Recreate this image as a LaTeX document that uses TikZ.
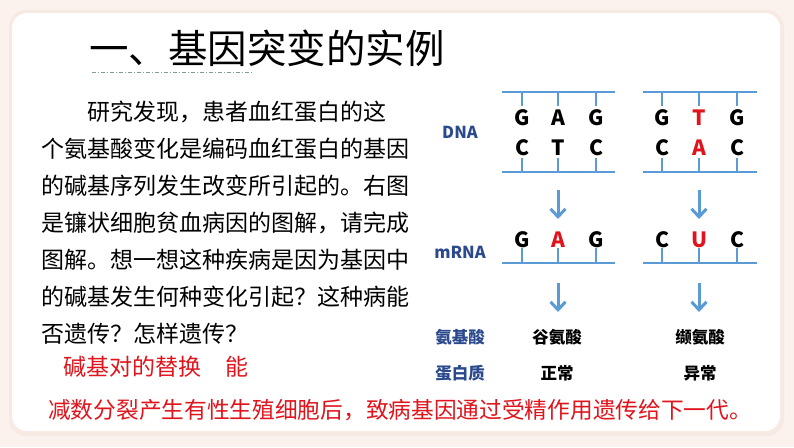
\documentclass[tikz,border=0pt]{standalone}
\usepackage{fontspec}
\newfontfamily\cjk{Noto Sans CJK SC}
\usetikzlibrary{arrows.meta}
\definecolor{bgpeach}{HTML}{FBF2ED}
\definecolor{shadowc}{HTML}{F7EAE3}
\definecolor{bluel}{HTML}{5B9BD5}
\definecolor{navy}{HTML}{2B4A8E}
\definecolor{redt}{HTML}{E0141C}
\definecolor{dashc}{HTML}{7E9C9E}
\tikzset{
  para/.style={anchor=west, inner sep=0pt, font=\cjk\fontsize{23}{23}\selectfont},
  answer/.style={anchor=west, inner sep=0pt, text=redt, font=\cjk\fontsize{23}{23}\selectfont},
  strand/.style={bluel, line width=2pt},
  tickln/.style={bluel, line width=1.6pt},
  base/.style={inner sep=0pt, font=\cjk\bfseries\fontsize{21}{21}\selectfont},
  mut/.style={base, text=redt},
  lbl/.style={inner sep=0pt, text=navy, font=\cjk\bfseries\fontsize{16.5}{16.5}\selectfont},
  res/.style={inner sep=0pt, font=\cjk\bfseries\fontsize{16.5}{16.5}\selectfont},
  flow/.style={bluel, line width=3pt, -{Straight Barb[length=8pt,width=15pt]}}
}
\begin{document}
\begin{tikzpicture}[x=1pt,y=-1pt]
\useasboundingbox (0,0) rectangle (794,447);
\fill[bgpeach] (0,0) rectangle (794,447);
\fill[shadowc, rounded corners=17pt] (9,10) rectangle (784,436);
\fill[white, rounded corners=15pt] (12,13) rectangle (780,431);

% title
\node[anchor=west, inner sep=0pt, font=\cjk\fontsize{39.5}{39.5}\selectfont] (title) at (89,48) {一、基因突变的实例};
\coordinate (u1) at (92,72);
\coordinate (u2) at (252,72);
\draw[dashc, line width=1pt, dash pattern=on 4pt off 2pt on 1pt off 2pt] (u1) -- (u2);

% paragraph
\node[para] (p1) at (87,112) {研究发现，患者血红蛋白的这};
\node[para] (p2) at (41,149) {个氨基酸变化是编码血红蛋白的基因};
\node[para] (p3) at (41,186) {的碱基序列发生改变所引起的。右图};
\node[para] (p4) at (41,223) {是镰状细胞贫血病因的图解，请完成};
\node[para] (p5) at (41,260) {图解。想一想这种疾病是因为基因中};
\node[para] (p6) at (41,297) {的碱基发生何种变化引起？这种病能};
\node[para] (p7) at (41,334) {否遗传？怎样遗传？};
\node[answer] (ans1) at (63,367) {碱基对的替换};
\node[answer] (ans2) at (225,367) {能};
\node[anchor=west, inner sep=0pt, text=redt, font=\cjk\fontsize{22.7}{22.7}\selectfont] (ans3) at (48,410) {减数分裂产生有性生殖细胞后，致病基因通过受精作用遗传给下一代。};

% row labels
\node[lbl] (ldna) at (460,132) {DNA};
\node[lbl] (lmrna) at (460,252) {mRNA};
\node[lbl] (laa) at (460,337) {氨基酸};
\node[lbl] (lpro) at (460,373) {蛋白质};

% DNA block 1
\draw[strand] (502,92) -- (615,92);
\draw[strand] (502,172) -- (615,172);
\foreach \x in {522,558,596} {
  \draw[tickln] (\x,92) -- (\x,106);
  \draw[tickln] (\x,158) -- (\x,172);
}
\node[base] (d1a) at (522,118) {G};
\node[base] (d1b) at (558,118) {A};
\node[base] (d1c) at (596,118) {G};
\node[base] (d1d) at (522,148) {C};
\node[base] (d1e) at (558,148) {T};
\node[base] (d1f) at (596,148) {C};

% DNA block 2
\draw[strand] (643,92) -- (757,92);
\draw[strand] (643,172) -- (757,172);
\foreach \x in {662,699,737} {
  \draw[tickln] (\x,92) -- (\x,106);
  \draw[tickln] (\x,158) -- (\x,172);
}
\node[base] (d2a) at (662,118) {G};
\node[mut] (d2b) at (699,118) {T};
\node[base] (d2c) at (737,118) {G};
\node[base] (d2d) at (662,148) {C};
\node[mut] (d2e) at (699,148) {A};
\node[base] (d2f) at (737,148) {C};

% mRNA
\draw[strand] (502,263) -- (615,263);
\draw[strand] (643,263) -- (757,263);
\foreach \x in {522,558,596,662,699,737} {
  \draw[tickln] (\x,248) -- (\x,263);
}
\node[base] (m1a) at (522,240) {G};
\node[mut] (m1b) at (558,240) {A};
\node[base] (m1c) at (596,240) {G};
\node[base] (m2a) at (662,240) {C};
\node[mut] (m2b) at (699,240) {U};
\node[base] (m2c) at (737,240) {C};

% amino acids and proteins
\node[res] (aa1) at (557,337) {谷氨酸};
\node[res] (aa2) at (700,337) {缬氨酸};
\node[res] (pr1) at (557,373) {正常};
\node[res] (pr2) at (700,373) {异常};

% arrows
\coordinate (f1s) at (558,190); \coordinate (f1e) at (558,219);
\coordinate (f2s) at (699,190); \coordinate (f2e) at (699,219);
\coordinate (f3s) at (558,283); \coordinate (f3e) at (558,312);
\coordinate (f4s) at (699,283); \coordinate (f4e) at (699,312);
\draw[flow] (f1s) -- (f1e);
\draw[flow] (f2s) -- (f2e);
\draw[flow] (f3s) -- (f3e);
\draw[flow] (f4s) -- (f4e);
\end{tikzpicture}
\end{document}
